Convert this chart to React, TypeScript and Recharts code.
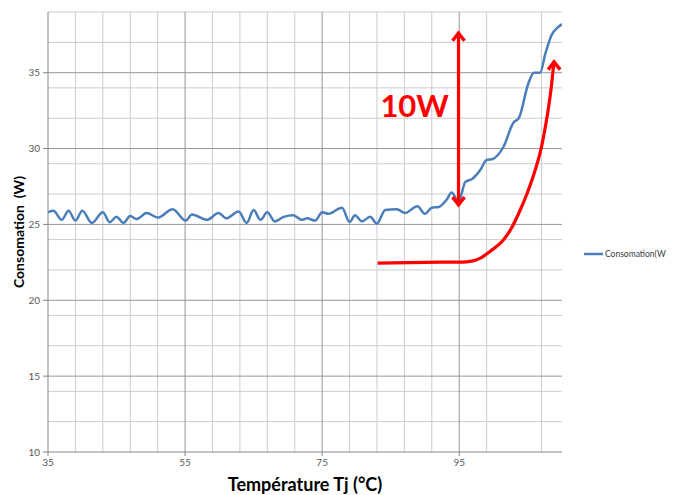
import React from 'react';
import {
  LineChart,
  Line,
  XAxis,
  YAxis,
  CartesianGrid,
  ReferenceLine,
  ReferenceDot,
  Legend,
} from 'recharts';

// Température Tj (°C) / Consommation (W)
const temps = [
  35.0, 35.8, 37.0, 38.0, 39.0, 40.0, 41.4, 43.0, 44.0, 45.0, 46.0, 47.0, 47.9, 49.4, 51.0,
  53.2, 55.1, 56.0, 58.2, 59.9, 61.0, 62.8, 64.0, 65.0, 66.0, 67.0, 68.1, 69.4, 70.8, 72.0,
  72.8, 74.0, 75.0, 75.9, 77.9, 79.0, 79.8, 80.8, 82.0, 83.0, 84.2, 85.9, 87.1, 88.9, 90.0,
  91.0, 92.0, 93.2, 93.9, 94.9, 95.9, 96.9, 98.1, 99.0, 99.8, 101.5, 102.9, 103.7, 105.1,
  105.9, 106.8, 107.6, 108.5, 109.3, 110.0,
];
const consumption = [
  25.8, 25.9, 25.3, 25.9, 25.25, 25.9, 25.1, 25.8, 25.15, 25.5, 25.1, 25.55, 25.35, 25.75, 25.45,
  26.0, 25.25, 25.65, 25.3, 25.75, 25.4, 25.85, 25.1, 25.95, 25.3, 25.8, 25.2, 25.5, 25.6, 25.3,
  25.4, 25.25, 25.8, 25.7, 26.1, 25.15, 25.6, 25.2, 25.5, 25.05, 25.95, 26.0, 25.75, 26.2, 25.7,
  26.1, 26.15, 26.65, 27.1, 26.5, 27.8, 28.0, 28.6, 29.25, 29.3, 30.15, 31.7, 32.0, 34.3,
  35.0, 35.0, 36.3, 37.5, 37.95, 38.2,
];

// hand-drawn red annotation curve
const curveT = [83.1, 90.0, 95.5, 96.6, 98.1, 99.5, 101.5, 102.8, 103.9, 105.0, 106.1, 107.0, 107.6, 108.1, 108.5, 108.85];
const curveW = [22.45, 22.5, 22.52, 22.56, 22.78, 23.22, 24.0, 24.9, 25.95, 27.15, 28.6, 30.1, 31.5, 32.9, 34.3, 35.8];

// vertical "10W" arrow
const arrowT = [94.9, 94.9];
const arrowW = [26.2, 37.7];

const xTicks = [35, 55, 75, 95];
const yTicks = [10, 15, 20, 25, 30, 35];
const xMinor = [39, 43, 47, 51, 59, 63, 67, 71, 79, 83, 87, 91, 99, 103, 107];
const yMinor = [11, 12, 13, 14, 16, 17, 18, 19, 21, 22, 23, 24, 26, 27, 28, 29, 31, 32, 33, 34, 36, 37, 38, 39];

const mainData = temps.map((t, i) => ({ t, w: consumption[i] }));
const curveData = curveT.map((t, i) => ({ t, r: curveW[i] }));
const arrowData = arrowT.map((t, i) => ({ t, a: arrowW[i] }));

const RED = '#ff0000';
const BLUE = '#4a7ebb';
const FONT = 'Lato, "Open Sans", sans-serif';

const chevron = (cx: number, cy: number, up: boolean, key: string) => {
  const d = up ? 1 : -1;
  return (
    <polyline
      key={key}
      points={`${cx - 6},${cy + d * 9} ${cx},${cy + d * 1.5} ${cx + 6},${cy + d * 9}`}
      fill="none"
      stroke={RED}
      strokeWidth={3.5}
      strokeLinejoin="miter"
    />
  );
};

const arrowDot = (props: any) => {
  const { cx, cy, index } = props;
  return chevron(cx, cy, index === 1, `ad-${index}`);
};

const curveDot = (props: any) => {
  const { cx, cy, index } = props;
  if (index !== curveData.length - 1) return <g key={`cd-${index}`} />;
  return chevron(cx, cy, true, `cd-${index}`);
};

const LegendBox = () => (
  <div style={{ display: 'flex', alignItems: 'center', fontFamily: FONT, fontSize: 8.5, color: '#404040', whiteSpace: 'nowrap' }}>
    <svg width={19} height={6} style={{ marginRight: 2 }}>
      <line x1={0} y1={3} x2={19} y2={3} stroke={BLUE} strokeWidth={2.5} />
    </svg>
    <span>Consomation(W</span>
  </div>
);

export default function App() {
  return (
    <div style={{ position: 'absolute', left: 0, top: 0, width: 673, height: 495, background: '#fff', overflow: 'hidden' }}>
      <LineChart width={673} height={495} data={mainData} margin={{ top: 12, right: 111, left: 0, bottom: 0 }}>
        <CartesianGrid stroke="#cccccc" strokeWidth={1} horizontalValues={yMinor} verticalValues={xMinor} />
        {xTicks.slice(1).map((v) => (
          <ReferenceLine key={`vx${v}`} x={v} stroke="#969696" />
        ))}
        {yTicks.slice(1).map((v) => (
          <ReferenceLine key={`hy${v}`} y={v} stroke="#969696" />
        ))}
        <XAxis
          type="number"
          dataKey="t"
          domain={[35, 110]}
          ticks={xTicks}
          allowDataOverflow
          height={43}
          tickSize={4}
          tickMargin={3}
          stroke="#868686"
          tick={{ fontSize: 10, fill: '#595959', fontFamily: FONT }}
          label={{
            content: (p: any) => {
              const vb = p.viewBox;
              return (
                <text x={vb.x + vb.width / 2} y={vb.y + vb.height - 4} textAnchor="middle" fontFamily={FONT} fontWeight={700} fontSize={18} fill="#000">
                  Température Tj (°C)
                </text>
              );
            },
          }}
        />
        <YAxis
          type="number"
          domain={[10, 39]}
          ticks={yTicks}
          allowDataOverflow
          width={48}
          tickSize={5}
          tickMargin={3}
          stroke="#868686"
          tick={{ fontSize: 10, fill: '#595959', fontFamily: FONT }}
          label={{
            content: (p: any) => {
              const vb = p.viewBox;
              const x = vb.x + 18;
              const y = vb.y + vb.height / 2;
              return (
                <text x={x} y={y} transform={`rotate(-90 ${x} ${y})`} textAnchor="middle" dominantBaseline="central" fontFamily={FONT} fontWeight={700} fontSize={14} fill="#000" style={{ whiteSpace: 'pre' }}>
                  Consomation  (W)
                </text>
              );
            },
          }}
        />
        <Legend
          layout="horizontal"
          verticalAlign="middle"
          align="center"
          wrapperStyle={{ left: 584, top: 249, width: 89 }}
          content={() => <LegendBox />}
        />
        <Line
          type="monotone"
          dataKey="w"
          name="Consomation(W"
          stroke={BLUE}
          strokeWidth={2.5}
          dot={false}
          isAnimationActive={false}
        />
        <Line
          data={curveData}
          type="monotone"
          dataKey="r"
          stroke={RED}
          strokeWidth={3.2}
          dot={curveDot}
          legendType="none"
          isAnimationActive={false}
        />
        <Line
          data={arrowData}
          type="linear"
          dataKey="a"
          stroke={RED}
          strokeWidth={3.2}
          dot={arrowDot}
          legendType="none"
          isAnimationActive={false}
        />
        <ReferenceDot
          x={88.5}
          y={32.8}
          r={0}
          stroke="none"
          fill="none"
          label={{ value: '10W', position: 'center', fill: RED, fontSize: 31, fontWeight: 700, fontFamily: FONT }}
        />
      </LineChart>
    </div>
  );
}
